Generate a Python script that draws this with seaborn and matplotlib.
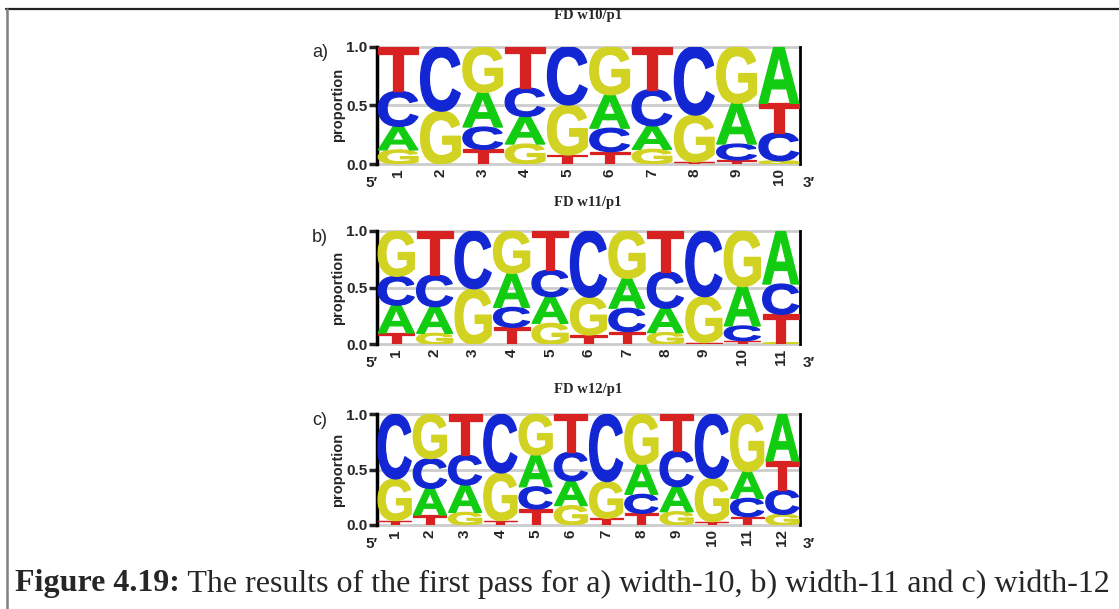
import numpy as np
import matplotlib
matplotlib.use("Agg")
import matplotlib.pyplot as plt
import seaborn as sns
from matplotlib.textpath import TextPath
from matplotlib.font_manager import FontProperties
from matplotlib.patches import PathPatch
from matplotlib.transforms import Affine2D
from matplotlib.lines import Line2D

# ---------------- data ----------------
bases = ["A", "C", "G", "T"]
base_colors = {"A": "#12cc12", "C": "#1226d4", "G": "#d2d222", "T": "#d82222"}

titles = ["FD w10/p1", "FD w11/p1", "FD w12/p1"]
panel_labels = ["a)", "b)", "c)"]
y_ticks = [0.0, 0.5, 1.0]
y_tick_labels = ["0.0", "0.5", "1.0"]

# width-10
w10_A = [0.20, 0.00, 0.295, 0.235, 0.000, 0.285, 0.200, 0.000, 0.347, 0.483]
w10_C = [0.30, 0.55, 0.190, 0.245, 0.497, 0.200, 0.310, 0.583, 0.136, 0.240]
w10_G = [0.12, 0.45, 0.390, 0.170, 0.426, 0.410, 0.125, 0.400, 0.483, 0.027]
w10_T = [0.38, 0.00, 0.125, 0.350, 0.077, 0.105, 0.365, 0.017, 0.034, 0.250]

# width-11
w11_A = [0.245, 0.235, 0.00, 0.300, 0.235, 0.000, 0.264, 0.215, 0.000, 0.347, 0.468]
w11_C = [0.255, 0.280, 0.51, 0.176, 0.236, 0.585, 0.206, 0.323, 0.580, 0.130, 0.267]
w11_G = [0.400, 0.097, 0.49, 0.374, 0.185, 0.333, 0.418, 0.103, 0.405, 0.491, 0.015]
w11_T = [0.100, 0.388, 0.00, 0.150, 0.344, 0.082, 0.112, 0.359, 0.015, 0.032, 0.250]

# width-12
w12_A = [0.000, 0.24, 0.247, 0.00, 0.287, 0.223, 0.000, 0.271, 0.226, 0.000, 0.241, 0.422]
w12_C = [0.584, 0.27, 0.271, 0.53, 0.200, 0.259, 0.608, 0.172, 0.325, 0.578, 0.166, 0.220]
w12_G = [0.376, 0.40, 0.114, 0.43, 0.368, 0.175, 0.332, 0.452, 0.120, 0.392, 0.518, 0.096]
w12_T = [0.040, 0.09, 0.368, 0.04, 0.145, 0.343, 0.060, 0.105, 0.329, 0.030, 0.075, 0.262]

panels = [
    {"A": w10_A, "C": w10_C, "G": w10_G, "T": w10_T},
    {"A": w11_A, "C": w11_C, "G": w11_G, "T": w11_T},
    {"A": w12_A, "C": w12_C, "G": w12_G, "T": w12_T},
]

caption_bold = "Figure 4.19:"
caption_rest = " The results of the first pass for a) width-10, b) width-11 and c) width-12"

# ---------------- style ----------------
sns.set_style("white")
plt.rcParams["font.family"] = ["Liberation Sans", "DejaVu Sans"]

W, H = 1119, 609
fig = plt.figure(figsize=(W / 100, H / 100), dpi=100)
fig.patch.set_facecolor("white")

letter_font = FontProperties(family="Liberation Sans", weight="bold")
letter_paths = {b: TextPath((0, 0), b, size=1, prop=letter_font) for b in bases}


def draw_letter(ax, base, x, y0, h, width=0.94):
    if h <= 0:
        return
    tp = letter_paths[base]
    ext = tp.get_extents()
    sx = width / ext.width
    sy = h / ext.height
    tr = (Affine2D().translate(-ext.x0, -ext.y0).scale(sx, sy)
          .translate(x - width / 2, y0))
    path = tr.transform_path(tp)
    ax.add_patch(PathPatch(path, facecolor=base_colors[base], edgecolor=base_colors[base],
                           lw=0.9, joinstyle="miter", zorder=3))


# axes positions in pixels (left, right, y_top(1.0), y_bottom(0.0))
boxes = [(377, 800, 46.7, 164.0), (377, 800, 231.0, 344.3), (377, 800, 414.3, 525.0)]
title_y = [16, 203, 389]

for k, (data, box) in enumerate(zip(panels, boxes)):
    l, r, yt, yb = box
    ax = fig.add_axes([l / W, 1 - yb / H, (r - l) / W, (yb - yt) / H])
    n = len(data["A"])
    positions = np.arange(1, n + 1)
    ax.set_xlim(0.5, n + 0.5)
    ax.set_ylim(0, 1)
    for g in y_ticks:
        ax.axhline(g, color="#cccccc", lw=2, zorder=1, clip_on=False)
    for i, xpos in enumerate(positions):
        vals = sorted([(data[b][i], b) for b in bases], key=lambda t: t[0])
        y0 = 0.0
        for v, b in vals:
            draw_letter(ax, b, xpos, y0, v)
            y0 += v
    for s in ["top", "bottom"]:
        ax.spines[s].set_visible(False)
    ax.spines["left"].set_linewidth(2.5)
    ax.spines["left"].set_color("black")
    ax.spines["right"].set_linewidth(2.0)
    ax.spines["right"].set_color("black")
    ax.set_yticks(y_ticks)
    ax.set_yticklabels(y_tick_labels, fontsize=11, fontweight="bold")
    ax.tick_params(axis="y", direction="out", length=6, width=2.5, pad=1, left=True)
    ax.set_xticks(positions)
    ax.set_xticklabels([str(p) for p in positions], rotation=90, fontsize=11,
                       fontweight="bold")
    ax.tick_params(axis="x", length=0, pad=3)
    ax.set_ylabel("proportion", fontsize=10.5, fontweight="bold", labelpad=1)
    ax.set_facecolor("none")

    fig.text(588 / W, 1 - title_y[k] / H, titles[k], ha="center", va="center",
             fontsize=10.5, fontweight="bold", family="Liberation Serif")
    fig.text(312 / W, 1 - (yt + 6) / H, panel_labels[k], ha="left", va="center",
             fontsize=13)
    fig.text(372 / W, 1 - (yb + 19) / H, "5\u2032", ha="center", va="center",
             fontsize=11, fontweight="bold")
    fig.text(809 / W, 1 - (yb + 19) / H, "3\u2032", ha="center", va="center",
             fontsize=11, fontweight="bold")

# frame lines
fig.add_artist(Line2D([6 / W, 1], [1 - 8.5 / H, 1 - 8.5 / H], transform=fig.transFigure,
                      color="#222222", lw=1.6))
fig.add_artist(Line2D([6.5 / W, 6.5 / W], [1 - 8.5 / H, 0], transform=fig.transFigure,
                      color="#808080", lw=1.8))

# caption
t1 = fig.text(15 / W, 1 - 584 / H, caption_bold, ha="left", va="center",
              fontsize=23, fontweight="bold", family="Liberation Serif")
fig.canvas.draw()
bb = t1.get_window_extent(renderer=fig.canvas.get_renderer())
fig.text(bb.x1 / W, 1 - 584 / H, caption_rest, ha="left", va="center",
         fontsize=23, family="Liberation Serif")

fig.savefig("out.png", dpi=100, facecolor="white")
